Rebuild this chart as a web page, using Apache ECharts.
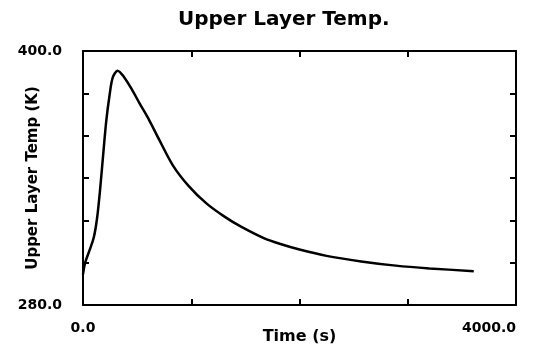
<!DOCTYPE html>
<html>
<head>
<meta charset="utf-8">
<script src="https://cdn.jsdelivr.net/npm/echarts@6/dist/echarts.min.js"></script>
<style>
  html, body { margin: 0; padding: 0; background: #fff; }
  #chart { width: 539px; height: 348px; }
</style>
</head>
<body>
<div id="chart"></div>
<script>
// time (s) and upper layer temperature (K)
const timeValues = [0, 20, 65, 100, 130, 157, 188, 215, 245, 275, 320, 375, 450, 520, 610,
  700, 830, 975, 1140, 1300, 1460, 1670, 1824, 2000, 2250, 2570, 2890, 3200, 3610]
const tempValues = [294.5, 300.0, 306.5, 312.0, 321.0, 334.0, 352.0, 367.0, 379.0, 387.5,
  390.7, 388.0, 382.0, 375.5, 367.5, 358.5, 346.0, 336.3, 328.0, 322.0, 317.0, 311.6, 308.8,
  306.2, 303.2, 300.6, 298.6, 297.3, 296.0]

// only the ends of each axis carry a label
const xLabelValues = [0, 4000]
const yLabelValues = [280, 400]

const font = 'DejaVu Sans'
const ink = '#000'

const chart = echarts.init(document.getElementById('chart'))

const frameLine = { show: true, onZero: false, lineStyle: { color: ink, width: 2 } }
const innerTicks = { show: true, inside: true, length: 6, lineStyle: { color: ink, width: 2 } }

const option = {
  animation: false,
  backgroundColor: '#fff',
  title: {
    text: 'Upper Layer Temp.',
    left: 173,
    top: 5,
    textStyle: { fontFamily: font, fontWeight: 'bold', fontSize: 20, color: ink }
  },
  grid: { left: 83, right: 23, top: 51, bottom: 43, containLabel: false, outerBoundsMode: 'none' },
  xAxis: [
    {
      type: 'value',
      min: 0,
      max: 4000,
      interval: 1000,
      position: 'bottom',
      axisLine: frameLine,
      axisTick: innerTicks,
      splitLine: { show: false },
      axisLabel: {
        margin: 16,
        fontFamily: font,
        fontWeight: 'bold',
        fontSize: 14,
        color: ink,
        alignMaxLabel: 'right',
        formatter: v => xLabelValues.includes(v) ? v.toFixed(1) : ''
      },
      name: 'Time (s)',
      nameLocation: 'middle',
      nameGap: 24,
      nameMoveOverlap: false,
      nameTextStyle: { fontFamily: font, fontWeight: 'bold', fontSize: 16, color: ink }
    },
    {
      type: 'value',
      min: 0,
      max: 4000,
      interval: 1000,
      position: 'top',
      axisLine: frameLine,
      axisTick: innerTicks,
      axisLabel: { show: false },
      splitLine: { show: false }
    }
  ],
  yAxis: [
    {
      type: 'value',
      min: 280,
      max: 400,
      interval: 20,
      position: 'left',
      axisLine: frameLine,
      axisTick: innerTicks,
      splitLine: { show: false },
      axisLabel: {
        margin: 21,
        fontFamily: font,
        fontWeight: 'bold',
        fontSize: 14,
        color: ink,
        padding: [0, 0, 6, 0],
        formatter: v => yLabelValues.includes(v) ? v.toFixed(1) : ''
      },
      name: 'Upper Layer Temp (K)',
      nameLocation: 'middle',
      nameGap: 42,
      nameMoveOverlap: false,
      nameTextStyle: { fontFamily: font, fontWeight: 'bold', fontSize: 15, color: ink }
    },
    {
      type: 'value',
      min: 280,
      max: 400,
      interval: 20,
      position: 'right',
      axisLine: frameLine,
      axisTick: innerTicks,
      axisLabel: { show: false },
      splitLine: { show: false }
    }
  ],
  series: [
    {
      type: 'line',
      xAxisIndex: 0,
      yAxisIndex: 0,
      data: timeValues.map((t, i) => [t, tempValues[i]]),
      showSymbol: false,
      smooth: 0.3,
      lineStyle: { color: ink, width: 2.5 }
    }
  ]
}

chart.setOption(option)
</script>
</body>
</html>
